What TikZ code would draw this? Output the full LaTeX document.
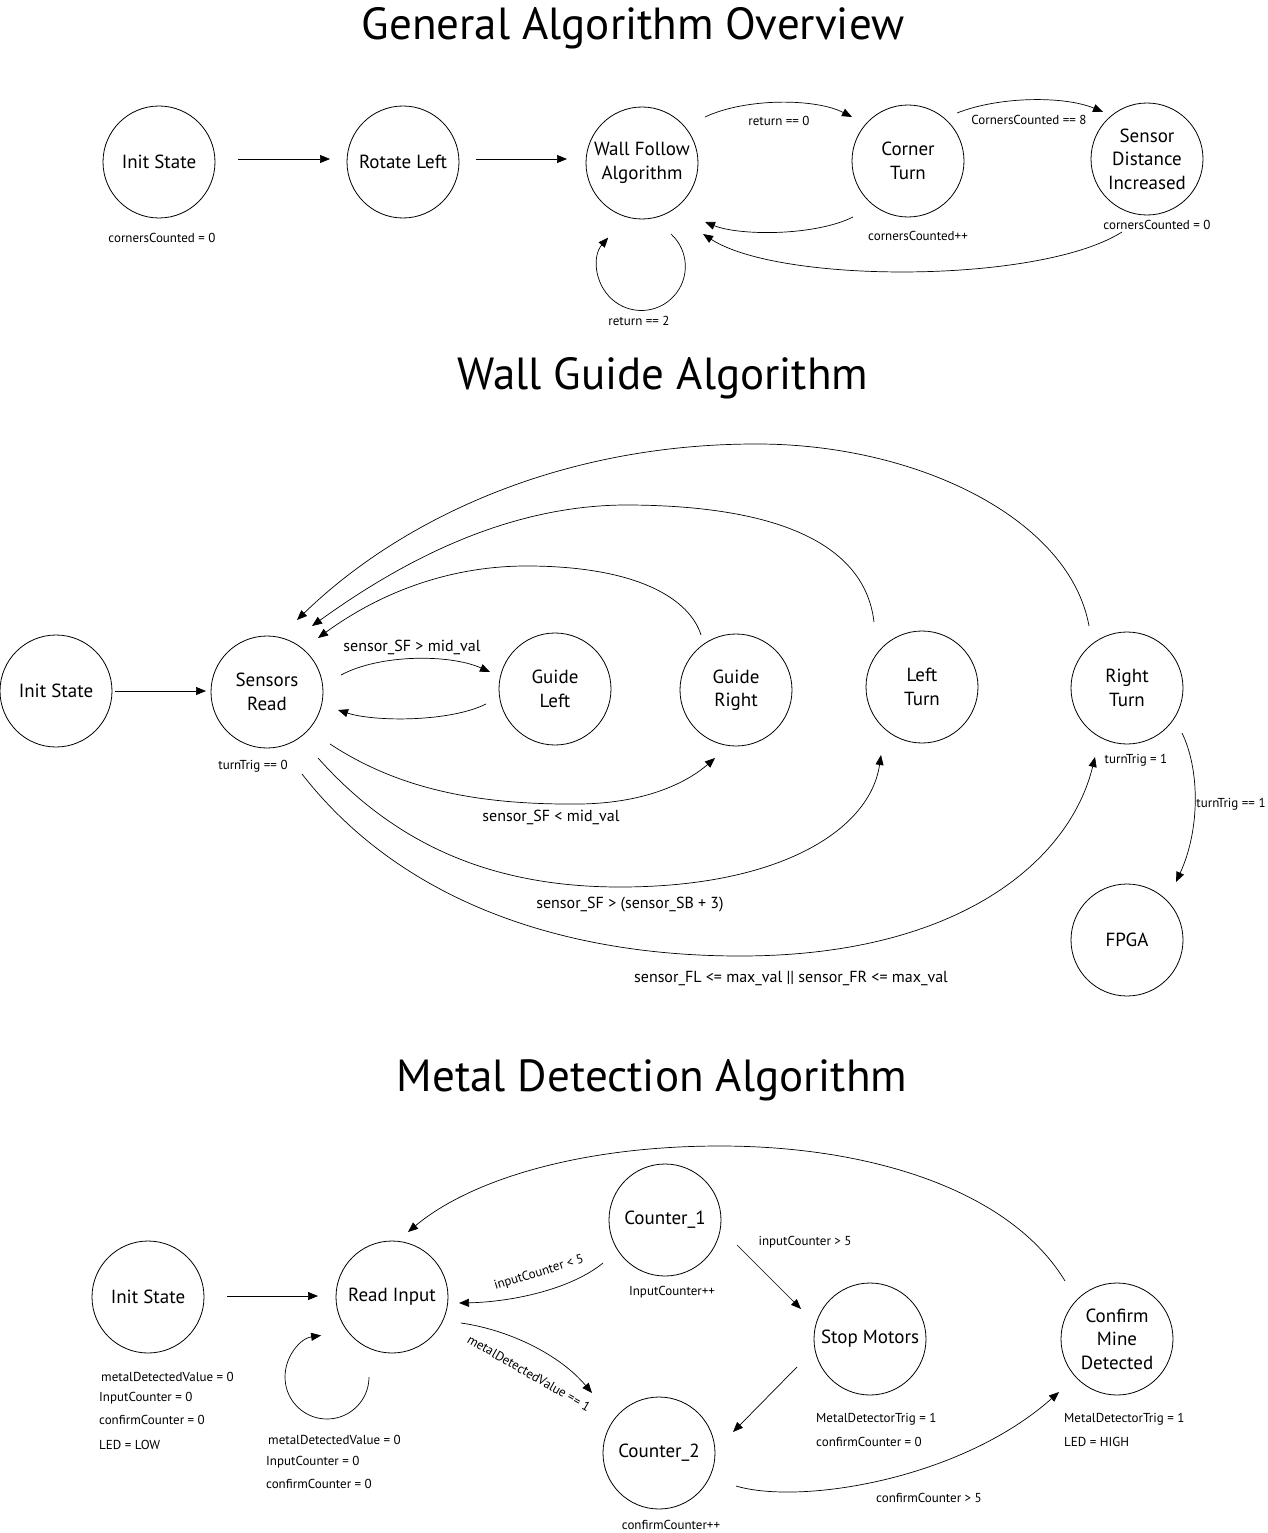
\documentclass[tikz,border=0pt]{standalone}
\usepackage{fontspec}
\setmainfont{PT Sans}
\usetikzlibrary{arrows.meta,calc}
\newcommand{\nodefnt}{\fontsize{19}{23.5}\selectfont}
\newcommand{\lblfnt}{\fontsize{13}{15}\selectfont}
\newcommand{\midfnt}{\fontsize{16}{18}\selectfont}
\newcommand{\ttlfnt}{\fontsize{45}{50}\selectfont}
\begin{document}
\begin{tikzpicture}[x=1pt,y=-1pt,
  st/.style={circle,draw,line width=0.8pt,minimum size=112pt,inner sep=0pt,align=center,font=\nodefnt},
  ar/.style={-{Triangle[length=10pt,width=8pt]},line width=0.7pt},
  lbl/.style={font=\lblfnt,inner sep=0pt},
  mlbl/.style={font=\midfnt,inner sep=0pt},
  ttl/.style={font=\ttlfnt,inner sep=0pt,anchor=base}]
\useasboundingbox (0,0) rectangle (1268,1533);
% ---------------- Section 1 ----------------
\node[ttl] (t1) at (633,40) {General Algorithm Overview};
\node[st] (init1) at (159,162) {Init State};
\node[st] (rot) at (403,162) {Rotate Left};
\node[st] (wf) at (642,163) {Wall Follow\\Algorithm};
\node[st] (ct) at (908,161) {Corner\\Turn};
\node[st] (sdi) at (1147,159) {Sensor\\Distance\\Increased};
\draw[ar] ($(init1)+(79,-3)$) -- ($(rot)+(-73,-3)$);
\draw[ar] ($(rot)+(73,-3)$) -- ($(wf)+(-75,-4)$);
\draw[ar] ($(wf)+(63,-46)$) .. controls (745,98) and (815,98) .. ($(ct)+(-56,-44)$);
\draw[ar] ($(ct)+(49,-48)$) .. controls (1000,96) and (1065,96) .. ($(sdi)+(-44,-47)$);
\draw[ar] ($(ct)+(-55,56)$) .. controls (815,236) and (740,236) .. ($(wf)+(63,59)$);
\draw[ar] ($(sdi)+(-25,73)$) .. controls (1040,284) and (780,284) .. ($(wf)+(61,71)$);
\draw[ar] ($(wf)+(29,71)$) arc[start angle=-47.6,end angle=221.2,radius=44];
\node[lbl] (l1a) at (779,121) {return == 0};
\node[lbl] (l1b) at (1029,120) {CornersCounted == 8};
\node[lbl] (l1c) at (162,238) {cornersCounted = 0};
\node[lbl] (l1d) at (918,236) {cornersCounted++};
\node[lbl] (l1e) at (1157,225) {cornersCounted = 0};
\node[lbl] (l1f) at (639,321) {return == 2};
% ---------------- Section 2 ----------------
\node[ttl] (t2) at (663,389) {Wall Guide Algorithm};
\node[st] (init2) at (56,691) {Init State};
\node[st] (sr) at (267,692) {Sensors\\Read};
\node[st] (gl) at (555,689) {Guide\\Left};
\node[st] (gr) at (736,690) {Guide\\Right};
\node[st] (lt) at (922,687) {Left\\Turn};
\node[st] (rt) at (1127,688) {Right\\Turn};
\node[st] (fpga) at (1127,940) {FPGA};
\draw[ar] ($(init2)+(59,0)$) -- ($(sr)+(-61,-1)$);
\draw[ar] ($(sr)+(74,-17)$) .. controls (380,654) and (450,654) .. ($(gl)+(-65,-17)$);
\draw[ar] ($(gl)+(-69,15)$) .. controls (450,722) and (375,722) .. ($(sr)+(71,18)$);
\draw[ar] ($(gr)+(-35,-55)$) .. controls (690,600) and (640,567) .. (531,566)
  .. controls (440,565) and (370,600) .. ($(sr)+(51,-54)$);
\draw[ar] ($(lt)+(-48,-65)$) .. controls (865,545) and (780,506) .. (630,505)
  .. controls (500,504) and (390,570) .. ($(sr)+(45,-66)$);
\draw[ar] ($(rt)+(-38,-62)$) .. controls (1070,520) and (920,445) .. (760,444)
  .. controls (560,443) and (400,520) .. ($(sr)+(30,-72)$);
\draw[ar] ($(sr)+(63,52)$) .. controls (400,790) and (480,805) .. (580,804)
  .. controls (650,803) and (690,780) .. ($(gr)+(-21,68)$);
\draw[ar] ($(sr)+(51,66)$) .. controls (400,850) and (500,887) .. (620,887)
  .. controls (780,887) and (870,830) .. ($(lt)+(-41,68)$);
\draw[ar] ($(sr)+(35,82)$) .. controls (400,900) and (560,956) .. (740,956)
  .. controls (960,956) and (1070,860) .. ($(rt)+(-32,69)$);
\draw[ar] ($(rt)+(55,45)$) .. controls (1200,770) and (1200,830) .. ($(fpga)+(49,-58)$);
\node[mlbl] (l2a) at (412,647) {sensor\_SF > mid\_val};
\node[lbl] (l2b) at (253,766) {turnTrig == 0};
\node[mlbl] (l2c) at (551,817) {sensor\_SF < mid\_val};
\node[mlbl] (l2d) at (630,905) {sensor\_SF > (sensor\_SB + 3)};
\node[mlbl] (l2e) at (791,978) {sensor\_FL <= max\_val || sensor\_FR <= max\_val};
\node[lbl] (l2f) at (1136,760) {turnTrig = 1};
\node[lbl] (l2g) at (1231,804) {turnTrig == 1};
% ---------------- Section 3 ----------------
\node[ttl] (t3) at (652,1091) {Metal Detection Algorithm};
\node[st] (init3) at (148,1297) {Init State};
\node[st] (ri) at (392,1297) {Read Input};
\node[st] (c1) at (665,1220) {Counter\_1};
\node[st] (sm) at (870,1339) {Stop Motors};
\node[st] (cmd) at (1117,1339) {Confirm\\Mine\\Detected};
\node[st] (c2) at (659,1453) {Counter\_2};
\draw[ar] ($(init3)+(79,-1)$) -- ($(ri)+(-74,-1)$);
\draw[ar] ($(ri)+(-23,80)$) arc[start angle=0,end angle=262,radius=42];
\draw[ar] ($(c1)+(-62,43)$) .. controls (570,1290) and (510,1302) .. ($(ri)+(67,6)$);
\draw[ar] ($(ri)+(69,26)$) .. controls (510,1330) and (560,1355) .. ($(c2)+(-67,-60)$);
\draw[ar] ($(c1)+(72,25)$) -- ($(sm)+(-69,-30)$);
\draw[ar] ($(sm)+(-73,28)$) -- ($(c2)+(74,-21)$);
\draw[ar] ($(c2)+(77,33)$) .. controls (800,1505) and (960,1480) .. ($(cmd)+(-58,53)$);
\draw[ar] ($(cmd)+(-52,-58)$) .. controls (1010,1190) and (870,1146) .. (720,1146)
  .. controls (580,1146) and (470,1180) .. ($(ri)+(16,-65)$);
\node[lbl,rotate=17] (l3a) at (539,1273) {inputCounter < 5};
\node[lbl,rotate=-30] (l3b) at (529,1373) {metalDetectedValue == 1};
\node[lbl] (l3c) at (805,1242) {inputCounter > 5};
\node[lbl] (l3d) at (672,1292) {InputCounter++};
\node[lbl] (l3e) at (929,1498) {confirmCounter > 5};
\node[lbl] (l3f) at (671,1525) {confirmCounter++};
\node[lbl,anchor=west] (l3g) at (101,1377) {metalDetectedValue = 0};
\node[lbl,anchor=west] (l3h) at (99,1398) {InputCounter = 0};
\node[lbl,anchor=west] (l3i) at (99,1420) {confirmCounter = 0};
\node[lbl,anchor=west] (l3j) at (99,1445) {LED = LOW};
\node[lbl,anchor=west] (l3k) at (268,1440) {metalDetectedValue = 0};
\node[lbl,anchor=west] (l3l) at (266,1462) {InputCounter = 0};
\node[lbl,anchor=west] (l3m) at (266,1484) {confirmCounter = 0};
\node[lbl,anchor=west] (l3n) at (816,1419) {MetalDetectorTrig = 1};
\node[lbl,anchor=west] (l3o) at (816,1442) {confirmCounter = 0};
\node[lbl,anchor=west] (l3p) at (1064,1419) {MetalDetectorTrig = 1};
\node[lbl,anchor=west] (l3q) at (1064,1442) {LED = HIGH};
\end{tikzpicture}
\end{document}
